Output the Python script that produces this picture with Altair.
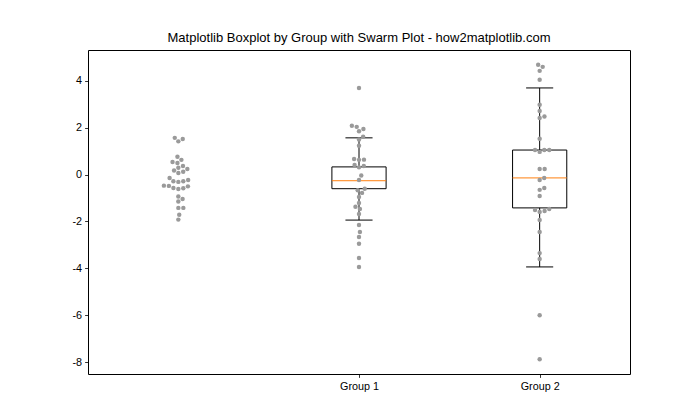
import numpy as np
import pandas as pd
import altair as alt

# ---- data ----
group_positions = [0, 1, 2]
values_g0 = [1.57, 1.52, 1.42, 0.76, 0.63, 0.54, 0.50, 0.37, 0.29, 0.24, 0.18, 0.12, 0.07,
             -0.14, -0.23, -0.28, -0.28, -0.31, -0.47, -0.48, -0.50, -0.57, -0.58, -0.61,
             -0.93, -1.04, -1.15, -1.42, -1.42, -1.71, -1.92]
values_g1 = [3.70, 2.09, 2.04, 1.95, 1.85, 1.62, 1.50, 1.23, 0.67, 0.64, 0.63, 0.41, 0.37,
             0.31, -0.04, -0.23, -0.60, -0.67, -0.78, -0.95, -1.21, -1.37, -1.47, -1.68,
             -2.15, -2.45, -2.66, -2.95, -3.56, -3.94]
values_g2 = [4.69, 4.60, 4.43, 4.05, 2.98, 2.72, 2.48, 2.42, 1.53, 1.05, 1.05, 1.05, 0.97,
             0.24, 0.24, -0.14, -0.23, -0.57, -0.65, -0.91, -1.47, -1.51, -1.55, -1.59,
             -1.94, -2.45, -3.35, -3.60, -6.00, -7.88]

box_positions = [1, 2]
box_labels = ["Group 1", "Group 2"]
whisker_low = [-1.94, -3.94]
q1 = [-0.60, -1.42]
median = [-0.26, -0.14]
q3 = [0.33, 1.05]
whisker_high = [1.57, 3.70]

y_ticks = [-8, -6, -4, -2, 0, 2, 4]

title = "Matplotlib Boxplot by Group with Swarm Plot - how2matplotlib.com"

# ---- layout ----
W, H = 542, 324
X_DOMAIN = [-0.5, 2.5]
Y_DOMAIN = [-8.51, 5.32]
BOX_W = 0.3
CAP_W = 0.15
DOT_D = 5.0  # px
FONT = "Liberation Sans"


def beeswarm(vals, d, ppu_x, ppu_y):
    vals = np.asarray(vals, dtype=float)
    order = np.argsort(vals, kind="mergesort")
    placed = []
    offs = np.zeros(len(vals))
    for i in order:
        y = vals[i] * ppu_y
        neigh = [(px, py) for px, py in placed if abs(py - y) < d]
        cands = [0.0]
        for px, py in neigh:
            dx = np.sqrt(max(d * d - (py - y) ** 2, 0.0))
            cands += [px + dx, px - dx]
        cands = sorted(cands, key=lambda c: abs(c))
        chosen = 0.0
        for c in cands:
            ok = all((c - px) ** 2 + (y - py) ** 2 >= d * d - 1e-6 for px, py in neigh)
            if ok:
                chosen = c
                break
        placed.append((chosen, y))
        offs[i] = chosen / ppu_x
    return offs


ppu_x = W / (X_DOMAIN[1] - X_DOMAIN[0])
ppu_y = H / (Y_DOMAIN[1] - Y_DOMAIN[0])

rows = []
for pos, vals in zip(group_positions, [values_g0, values_g1, values_g2]):
    offs = beeswarm(vals, DOT_D, ppu_x, ppu_y)
    for v, o in zip(vals, offs):
        rows.append({"x": pos + o, "value": v})
points = pd.DataFrame(rows)

boxes = pd.DataFrame({
    "pos": box_positions, "label": box_labels, "lo": whisker_low, "q1": q1,
    "med": median, "q3": q3, "hi": whisker_high,
})

xs = alt.Scale(domain=X_DOMAIN, nice=False, zero=False)
ys = alt.Scale(domain=Y_DOMAIN, nice=False, zero=False)

x_axis = alt.Axis(values=box_positions,
                  labelExpr="datum.value == 1 ? 'Group 1' : 'Group 2'",
                  title=None, grid=False, domain=False)
y_axis = alt.Axis(values=y_ticks, labelExpr="'' + datum.value",
                  title=None, grid=False, domain=False)

base_box = alt.Chart(boxes).transform_calculate(
    x0=f"datum.pos - {BOX_W/2}", x1=f"datum.pos + {BOX_W/2}",
    c0=f"datum.pos - {CAP_W/2}", c1=f"datum.pos + {CAP_W/2}",
)

rect = base_box.mark_rect(fill="white", fillOpacity=0, stroke="black", strokeWidth=1).encode(
    x=alt.X("x0:Q", scale=xs, axis=x_axis), x2="x1:Q",
    y=alt.Y("q1:Q", scale=ys, axis=y_axis), y2="q3:Q",
)
whisk_lo = base_box.mark_rule(color="black", strokeWidth=1).encode(
    x=alt.X("pos:Q", scale=xs), y=alt.Y("lo:Q", scale=ys), y2="q1:Q")
whisk_hi = base_box.mark_rule(color="black", strokeWidth=1).encode(
    x=alt.X("pos:Q", scale=xs), y=alt.Y("q3:Q", scale=ys), y2="hi:Q")
cap_lo = base_box.mark_rule(color="black", strokeWidth=1).encode(
    x=alt.X("c0:Q", scale=xs), x2="c1:Q", y=alt.Y("lo:Q", scale=ys))
cap_hi = base_box.mark_rule(color="black", strokeWidth=1).encode(
    x=alt.X("c0:Q", scale=xs), x2="c1:Q", y=alt.Y("hi:Q", scale=ys))
med = base_box.mark_rule(color="#ff7f0e", strokeWidth=1).encode(
    x=alt.X("x0:Q", scale=xs), x2="x1:Q", y=alt.Y("med:Q", scale=ys))

dots = alt.Chart(points).mark_circle(size=np.pi / 4 * DOT_D ** 2, color="#9a9a9a", opacity=1).encode(
    x=alt.X("x:Q", scale=xs), y=alt.Y("value:Q", scale=ys))

chart = alt.layer(rect, whisk_lo, whisk_hi, cap_lo, cap_hi, med, dots).properties(
    width=W, height=H,
    title=alt.TitleParams(title, fontSize=13, font=FONT, fontWeight="normal",
                          color="black", anchor="middle", offset=5),
    autosize=alt.AutoSizeParams(type="none"),
    padding={"left": 88, "top": 50, "right": 70, "bottom": 46},
    background="white",
).configure_view(stroke="black", strokeWidth=1).configure_axis(
    labelFont=FONT, labelFontSize=10.8, labelColor="black",
    tickColor="black", tickSize=3.4, tickWidth=0.8, labelPadding=3,
)

chart.save("out.html", embed_options={"renderer": "svg", "actions": False})
